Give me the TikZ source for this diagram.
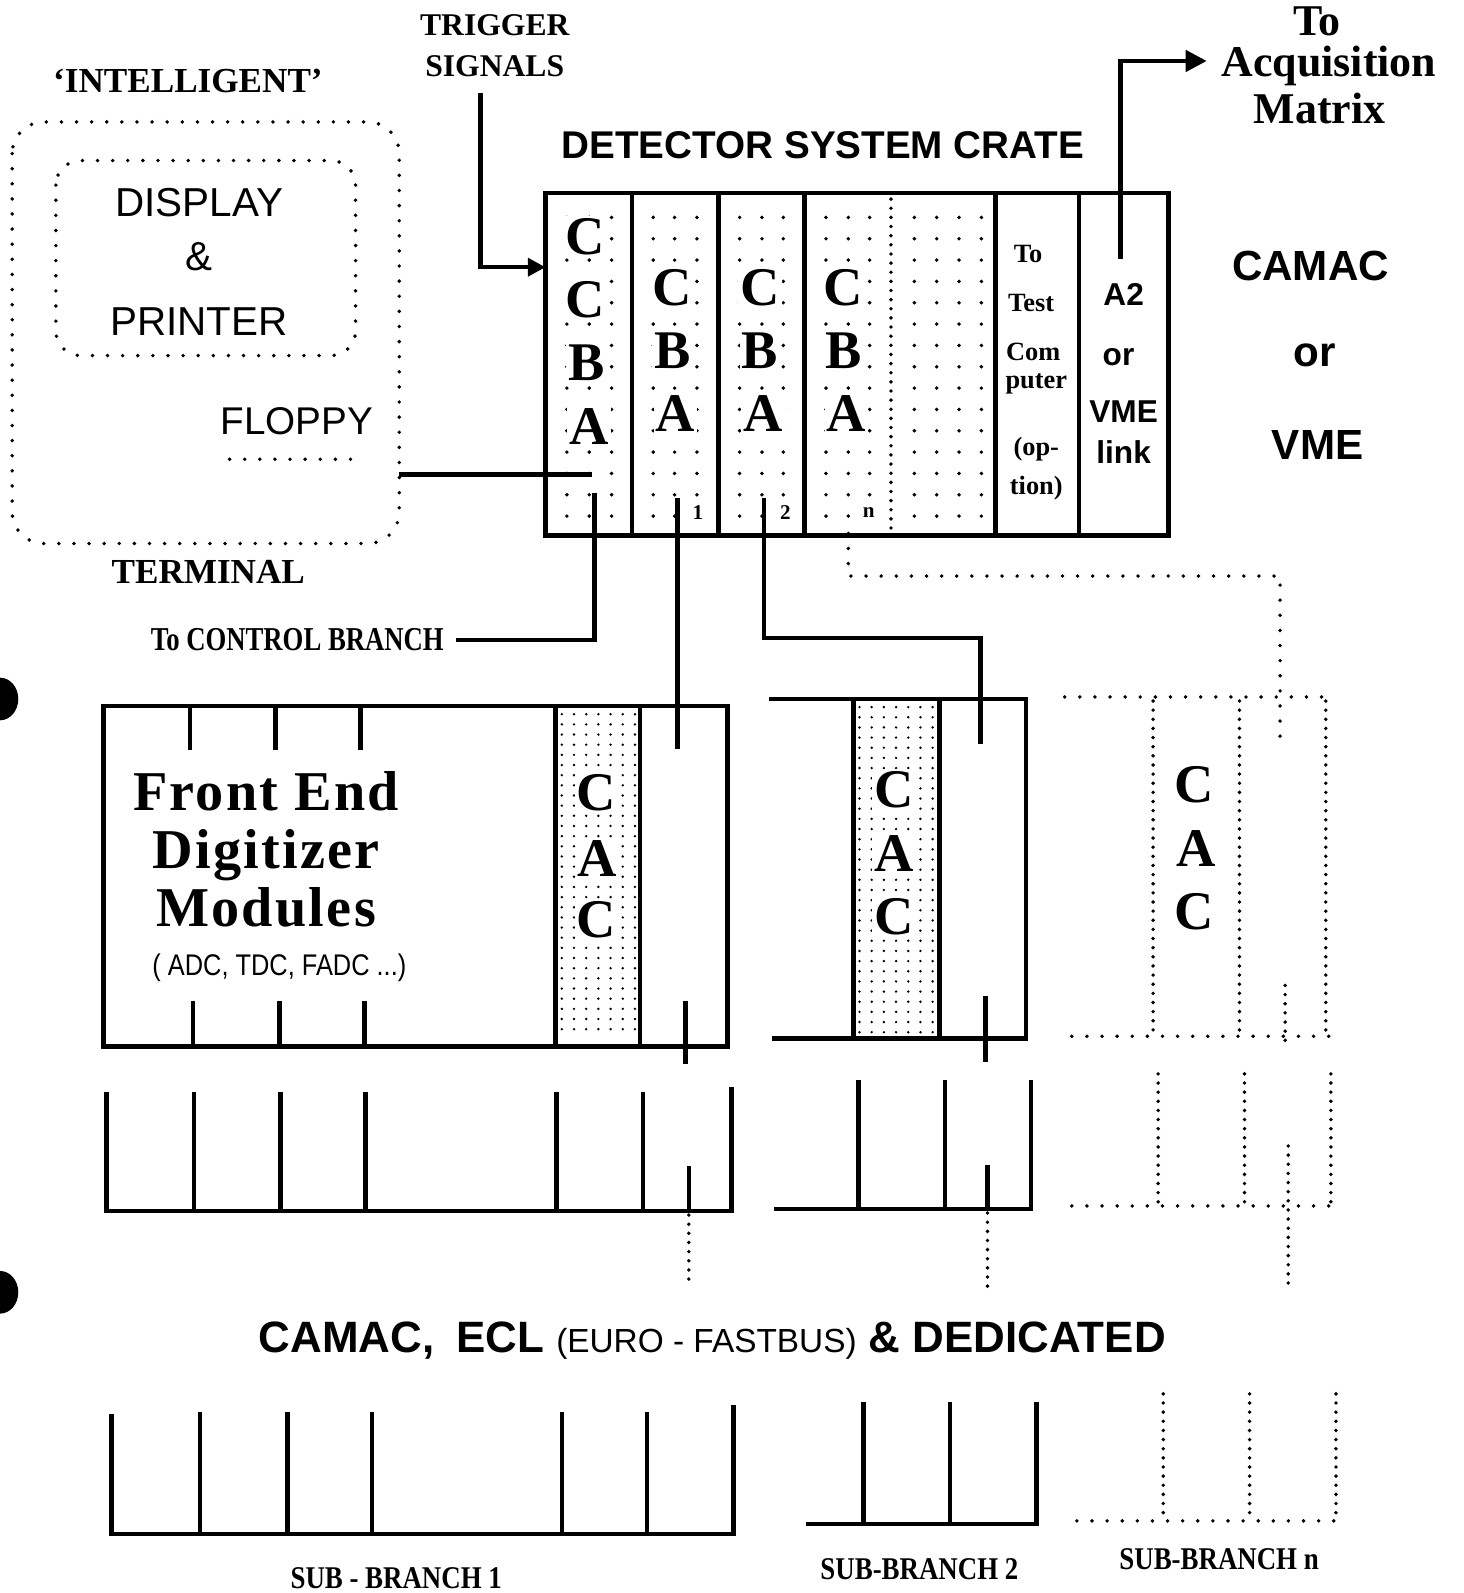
\documentclass[tikz,border=0pt]{standalone}
\usepackage{fontspec}
\setmainfont{Liberation Serif}
\setsansfont{Liberation Sans}
\usetikzlibrary{arrows.meta}

\tikzset{
  wire/.style={line width=1.3pt},
  dotted rule/.style={line width=1.1pt, line cap=round, dash pattern=on 0pt off 4.3pt},
  dense rule/.style={line width=1.1pt, line cap=round, dash pattern=on 0pt off 2.6pt},
  bigletter/.style={font=\bfseries\fontsize{15.5}{15.5}\selectfont, inner sep=0.6pt, fill=white},
  slotnote/.style={font=\bfseries\fontsize{7.5}{7.5}\selectfont, inner sep=0.5pt, fill=white},
  linknote/.style={font=\sffamily\bfseries\fontsize{9}{9}\selectfont, inner sep=0.5pt},
  busname/.style={font=\sffamily\bfseries\fontsize{12.5}{12.5}\selectfont},
  branchname/.style={font=\bfseries\fontsize{9}{9}\selectfont},
  acqline/.style={font=\bfseries\fontsize{12.5}{12.5}\selectfont, inner sep=0pt},
}
% sparse dot grid of a crate slot
\newcommand{\slotdots}[1]{\foreach \x in {#1} \foreach \y in {214,235,...,515} \fill (\x,\y) circle (0.55pt);}
% dense stipple of a CAC slot
\newcommand{\cacdots}[3]{\foreach \x in {#1} \foreach \y in {#2,...,#3} \fill (\x,\y) circle (0.38pt);}

\begin{document}
\begin{tikzpicture}[x=0.01016cm,y=-0.01016cm]
\useasboundingbox (0,0) rectangle (1441,1568);

% punch holes
\fill (0,688) ellipse [x radius=18, y radius=21];
\fill (0,1272) ellipse [x radius=18, y radius=21];

% intelligent terminal
\node[font=\bfseries\fontsize{10}{10}\selectfont] (intel) at (185,80) {`INTELLIGENT'};
\draw[dotted rule, rounded corners=9pt] (12,120) rectangle (393,535);
\draw[dotted rule, rounded corners=7pt] (55,158) rectangle (350,350);
\node[font=\sffamily\fontsize{11.5}{11.5}\selectfont, align=center] (disp) at (196,258)
  {DISPLAY\\[4pt]\&\\[7pt]PRINTER};
\node[font=\sffamily\fontsize{11}{11}\selectfont] (floppy) at (292,415) {FLOPPY};
\draw[dotted rule] (226,452) -- (356,452);
\node[font=\bfseries\fontsize{10}{10}\selectfont] (term) at (205,563) {TERMINAL};
\coordinate (tbox) at (393,467);
\coordinate (flop) at (583,467);
\draw[wire] (tbox) -- (flop);

% trigger signals
\node[font=\bfseries\fontsize{9}{11.5}\selectfont, align=center] (trig) at (487,45) {TRIGGER\\SIGNALS};
\coordinate (trigin) at (537,263);
\draw[wire, -{Triangle[length=5pt,width=5pt]}] (473,92) |- (trigin);

% detector system crate
\node[font=\sffamily\bfseries\fontsize{11}{11}\selectfont] (crate) at (810,143) {DETECTOR SYSTEM CRATE};
\slotdots{558,580,602}
\slotdots{643,664,686}
\slotdots{728,750,771}
\slotdots{813,835,856}
\slotdots{900,922,944,966}
\draw[wire] (537,190) rectangle (1150,527);
\foreach \x in {622,707,792,980,1062} \draw[wire] (\x,190) -- (\x,527);
\draw[dense rule] (877,196) -- (877,522);

\node[bigletter] (k1) at (576,233) {C};
\node[bigletter] (k2) at (576,295) {C};
\node[bigletter] (k3) at (577,357) {B};
\node[bigletter] (k4) at (580,420) {A};
\foreach \x/\n/\s in {662/1/1, 748/2/2, 830/3/n} {
  \node[bigletter] (c\n) at (\x,283) {C};
  \node[bigletter] (b\n) at (\x,345) {B};
  \node[bigletter] (a\n) at (\x+3,407) {A};
  \node[font=\bfseries\fontsize{6}{6}\selectfont, fill=white, inner sep=0.5pt] (nr\n) at (\x+25,504) {\s};
}

\node[slotnote] (t1) at (1012,250) {To};
\node[slotnote] (t2) at (1015,298) {Test};
\node[slotnote] (t3) at (1017,346) {Com};
\node[slotnote] (t4) at (1020,378) {puter};
\node[slotnote] (t5) at (1020,442) {(op-};
\node[slotnote] (t6) at (1020,480) {tion)};

\node[linknote] (l1) at (1106,290) {A2};
\node[linknote] (l2) at (1101,352) {or};
\node[linknote] (l3) at (1106,405) {VME};
\node[linknote] (l4) at (1106,445) {link};

\node[acqline] (acq1) at (1296,21) {To};
\node[acqline] (acq) at (1308,65) {Acquisition};
\node[acqline] (acq3) at (1299,107) {Matrix};
\draw[wire, -{Triangle[length=6pt,width=6pt]}] (1103,255) |- ([xshift=-4pt]acq.west |- 0,60);

\node[font=\sffamily\bfseries\fontsize{12}{12}\selectfont] (camac) at (1290,262) {CAMAC};
\node[font=\sffamily\bfseries\fontsize{12}{12}\selectfont] (or) at (1294,350) {or};
\node[font=\sffamily\bfseries\fontsize{12}{12}\selectfont] (vme) at (1297,438) {VME};

% branch outputs of the crate
\node[font=\bfseries\fontsize{9.5}{9.5}\selectfont, anchor=east] (ctrl) at (449,630)
  {\scalebox{0.8}[1]{To CONTROL BRANCH}};
\coordinate (out0) at (585,485);
\coordinate (out1) at (667,490);
\coordinate (out2) at (752,490);
\coordinate (outn) at (835,525);
\coordinate (in1) at (667,737);
\coordinate (in2) at (965,732);
\coordinate (inn) at (1260,725);
\draw[wire] (out0) |- (ctrl.east);
\draw[wire] (out1) -- (in1);
\draw[wire] (out2) -- (752,628) -| (in2);
\draw[dotted rule] (outn) -- (835,567) -| (inn);

% sub crate 1
\cacdots{553,565,577,589,601,613,625}{703,713}{1022}
\draw[wire] (102,695) rectangle (716,1030);
\draw[wire] (547,695) -- (547,1030);
\draw[wire] (630,695) -- (630,1030);
\foreach \x in {187,271,355} \draw[wire] (\x,695) -- (\x,738);
\foreach \x in {190,275,359} \draw[wire] (\x,985) -- (\x,1030);
\draw[wire] (675,985) -- (675,1047);
\node[font=\bfseries\fontsize{16}{16.5}\selectfont, align=center] (fe) at (262,836)
  {\addfontfeature{LetterSpace=4}Front End\\\addfontfeature{LetterSpace=4}Digitizer\\\addfontfeature{LetterSpace=4}Modules};
\node[font=\sffamily\fontsize{8.5}{8.5}\selectfont] (adc) at (275,953)
  {\scalebox{0.85}[1]{( ADC, TDC, FADC ...)}};
\node[bigletter] (s1c) at (587,780) {C};
\node[bigletter] (s1a) at (588,845) {A};
\node[bigletter] (s1d) at (587,905) {C};

% sub crate 2
\cacdots{846,858,870,882,894,906,918}{696,706}{1016}
\draw[wire] (757,688) -- (1010,688) -- (1010,1022) -- (760,1022);
\draw[wire] (840,688) -- (840,1022);
\draw[wire] (925,688) -- (925,1022);
\draw[wire] (970,980) -- (970,1045);
\node[bigletter] (s2c) at (880,777) {C};
\node[bigletter] (s2a) at (880,840) {A};
\node[bigletter] (s2d) at (880,902) {C};

% sub crate n
\draw[dotted rule] (1048,686) -- (1305,686);
\draw[dotted rule] (1055,1020) -- (1308,1020);
\foreach \x in {1135,1220,1305} \draw[dense rule] (\x,690) -- (\x,1018);
\draw[dense rule] (1265,970) -- (1265,1032);
\node[font=\bfseries\fontsize{15.5}{15.5}\selectfont] (snc) at (1175,772) {C};
\node[font=\bfseries\fontsize{15.5}{15.5}\selectfont] (sna) at (1177,835) {A};
\node[font=\bfseries\fontsize{15.5}{15.5}\selectfont] (snd) at (1175,897) {C};

% sub-branch buses below the crates
\draw[wire] (105,1075) -- (105,1192) -- (720,1192) -- (720,1070);
\foreach \x in {191,276,360,548,633} \draw[wire] (\x,1075) -- (\x,1192);
\draw[wire] (678,1148) -- (678,1192);
\draw[dense rule] (678,1196) -- (678,1265);
\draw[wire] (762,1190) -- (1015,1190) -- (1015,1063);
\foreach \x in {845,930} \draw[wire] (\x,1063) -- (\x,1190);
\draw[wire] (972,1147) -- (972,1190);
\draw[dense rule] (972,1194) -- (972,1270);
\draw[dotted rule] (1055,1187) -- (1312,1187);
\foreach \x in {1140,1225,1310} \draw[dense rule] (\x,1057) -- (\x,1185);
\draw[dense rule] (1268,1128) -- (1268,1265);

% bus standards
\node[busname] (std) at (701,1320)
  {CAMAC,\enspace ECL {\sffamily\mdseries\fontsize{9.5}{9.5}\selectfont (EURO - FASTBUS)} \& DEDICATED};

% sub-branches
\draw[wire] (110,1392) -- (110,1510) -- (722,1510) -- (722,1383);
\foreach \x in {197,283,366,553,637} \draw[wire] (\x,1390) -- (\x,1510);
\draw[wire] (793,1500) -- (1020,1500) -- (1020,1380);
\foreach \x in {850,935} \draw[wire] (\x,1380) -- (\x,1500);
\draw[dotted rule] (1060,1497) -- (1315,1497);
\foreach \x in {1145,1230,1315} \draw[dense rule] (\x,1372) -- (\x,1495);
\node[branchname] (sb1) at (390,1553) {\scalebox{0.85}[1]{SUB - BRANCH 1}};
\node[branchname] (sb2) at (905,1545) {\scalebox{0.85}[1]{SUB-BRANCH 2}};
\node[branchname] (sbn) at (1200,1535) {\scalebox{0.85}[1]{SUB-BRANCH n}};
\end{tikzpicture}
\end{document}
